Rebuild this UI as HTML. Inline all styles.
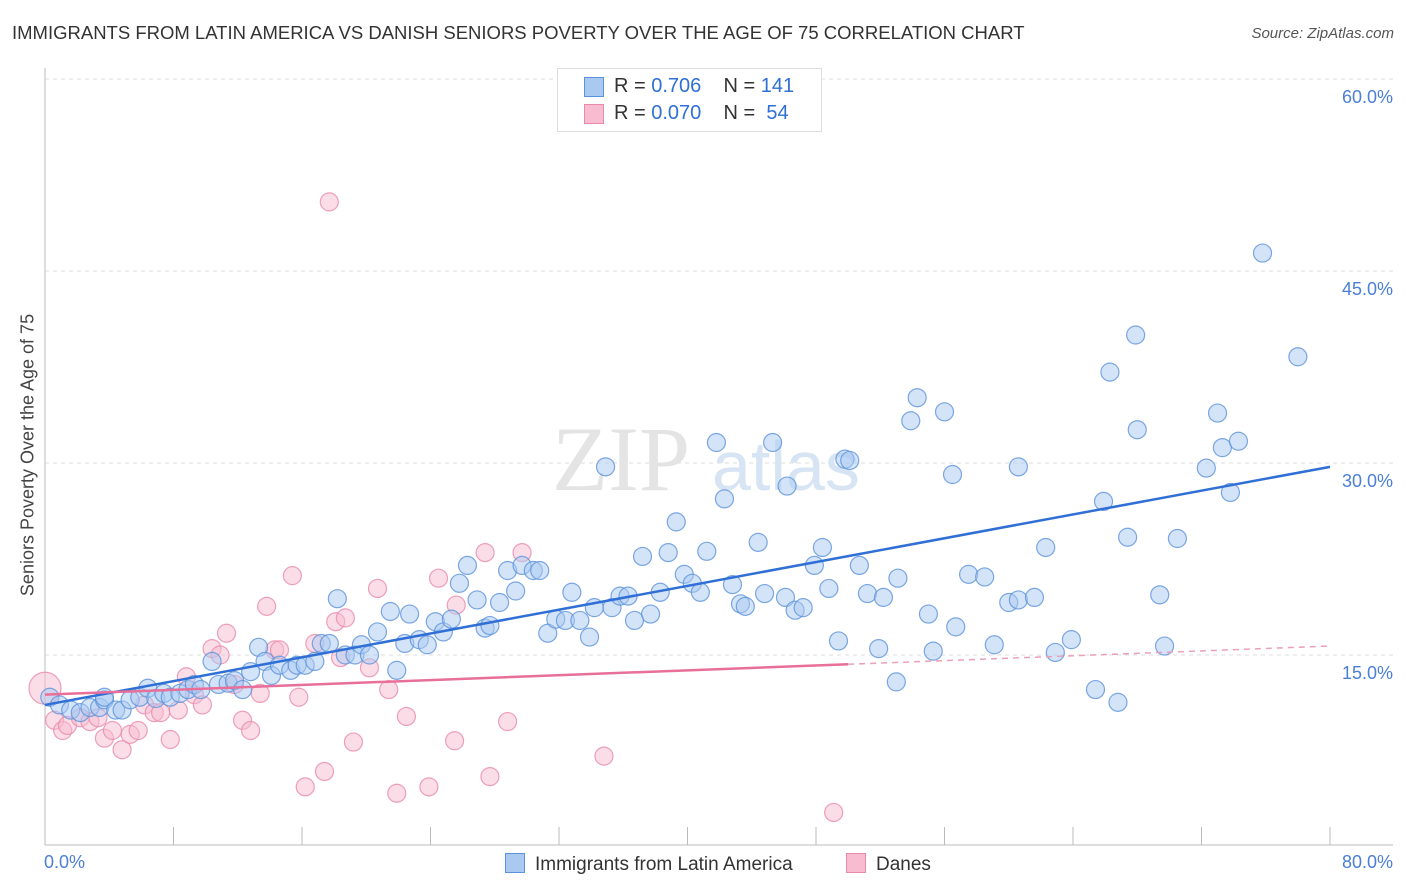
<!DOCTYPE html>
<html><head><meta charset="utf-8"><style>
body{margin:0;background:#fff;font-family:"Liberation Sans",sans-serif;}
#wrap{position:relative;width:1406px;height:892px;overflow:hidden;}
.t{position:absolute;white-space:nowrap;}
</style></head><body>
<div id="wrap">
<div class="t" style="left:12px;top:22px;font-size:18.5px;color:#333;">IMMIGRANTS FROM LATIN AMERICA VS DANISH SENIORS POVERTY OVER THE AGE OF 75 CORRELATION CHART</div>
<div class="t" style="right:12px;top:25px;font-size:15px;color:#555;font-style:italic;">Source: ZipAtlas.com</div>
<svg id="svg" width="1406" height="892" style="position:absolute;left:0;top:0"></svg>
</div>
<script>
const yTicks=[15,30,45,60];
const yTickLabels=["15.0%","30.0%","45.0%","60.0%"];
const xTickLabels=["0.0%","80.0%"];
const blueX=[0.3,0.9,1.6,2.2,2.8,3.4,3.7,4.4,4.8,3.7,5.3,5.9,6.4,6.9,7.4,7.8,8.4,8.9,9.3,9.7,10.4,10.8,11.4,11.8,12.3,12.8,13.3,13.7,14.1,14.6,15.3,15.7,16.2,16.8,17.2,17.7,18.2,18.7,19.3,19.7,20.2,20.7,21.5,21.9,22.4,22.7,23.3,23.8,24.3,24.8,25.3,25.8,26.3,26.9,27.4,27.7,28.3,28.8,29.3,29.7,30.4,30.8,31.3,31.8,32.4,32.8,33.3,33.9,34.2,34.9,35.3,35.8,36.3,36.7,37.2,37.7,38.3,38.8,39.3,39.8,40.3,40.8,41.2,41.8,42.3,42.8,43.3,43.6,44.4,44.8,45.3,46.1,46.2,46.7,47.2,47.9,48.4,48.8,49.4,49.8,50.1,50.7,51.2,51.9,52.2,53.0,53.1,53.9,54.3,55.0,55.3,56.0,56.5,56.7,57.5,58.5,59.1,60.0,60.6,60.6,61.6,62.3,62.9,63.9,65.4,65.9,66.3,66.8,67.4,67.9,68.0,69.4,69.7,70.5,72.3,73.0,73.3,73.8,74.3,75.8,78.0];
const blueY=[11.7,11.1,10.7,10.5,10.9,10.9,11.5,10.7,10.7,11.7,11.5,11.7,12.4,11.6,12.0,11.7,12.0,12.3,12.7,12.3,14.5,12.7,12.8,13.0,12.3,13.7,15.6,14.5,13.4,14.2,13.8,14.2,14.2,14.5,15.9,15.9,19.4,15.0,15.0,15.8,15.0,16.8,18.4,13.8,15.9,18.2,16.2,15.8,17.6,16.8,17.8,20.6,22.0,19.3,17.1,17.3,19.1,21.6,20.0,22.0,21.6,21.6,16.7,17.8,17.7,19.9,17.7,16.4,18.7,29.7,18.7,19.6,19.6,17.7,22.7,18.2,19.9,23.0,25.4,21.3,20.6,19.9,23.1,31.6,27.2,20.5,19.0,18.8,23.8,19.8,31.6,19.5,28.2,18.5,18.7,22.0,23.4,20.2,16.1,30.3,30.2,22.0,19.8,15.5,19.5,12.9,21.0,33.3,35.1,18.2,15.3,34.0,29.1,17.2,21.3,21.1,15.8,19.1,29.7,19.3,19.5,23.4,15.2,16.2,12.3,27.0,37.1,11.3,24.2,40.0,32.6,19.7,15.7,24.1,29.6,33.9,31.2,27.7,31.7,46.4,38.3];
const pinkX=[0,0.6,1.1,1.4,2.2,2.8,3.3,3.7,4.2,4.8,5.3,5.8,6.2,6.8,7.2,7.8,8.3,8.8,9.3,9.8,10.4,10.9,11.3,11.8,12.3,12.8,13.4,13.8,14.3,14.6,15.4,15.8,16.2,16.8,17.4,18.1,18.7,18.4,19.2,20.2,20.7,21.4,21.9,22.5,23.9,24.5,25.5,25.6,27.4,27.7,28.8,29.7,34.8,49.1,17.7];
const pinkY=[12.4,9.9,9.1,9.5,10.1,9.8,10.1,8.5,9.1,7.6,8.8,9.1,11.1,10.5,10.5,8.4,10.7,13.3,11.9,11.1,15.5,15.0,16.7,12.7,9.9,9.1,12.0,18.8,15.4,15.4,21.2,11.7,4.7,15.9,5.9,17.6,17.9,14.8,8.2,14.0,20.2,12.3,4.2,10.2,4.7,21.0,8.3,18.9,23.0,5.5,9.8,23.0,7.1,2.7,50.4];
const blueTrend=[11.1,29.7];
const pinkTrend=[11.9,15.7];
const pinkSolidEnd=50;

const X0=45,X1=1330,Y0=847,PX=12.8;
const sx=v=>X0+v/80*(X1-X0);
const sy=v=>Y0-v*PX;
const svg=document.getElementById('svg');
const NS='http://www.w3.org/2000/svg';
function mk(tag,attrs){const e=document.createElementNS(NS,tag);for(const k in attrs)e.setAttribute(k,attrs[k]);svg.appendChild(e);return e;}

yTicks.forEach((t,i)=>{
 const g=mk('line',{x1:45,x2:1393,y1:sy(t),y2:sy(t),stroke:'#ddd','stroke-dasharray':'4,4'});
 
 
 const tx=mk('text',{x:1393,y:sy(t)+24,'text-anchor':'end','font-size':18,fill:'#4a7fd6','font-family':'Liberation Sans'});
 tx.textContent=yTickLabels[i];
 
 
});
let a=mk('line',{x1:45,x2:45,y1:68,y2:845,stroke:'#bbb'});


a=mk('line',{x1:45,x2:1393,y1:845,y2:845,stroke:'#bbb'});


for(let i=1;i<=10;i++){const tk=mk('line',{x1:sx(i*8),x2:sx(i*8),y1:827,y2:845,stroke:'#bbb'});
 
 }
let w=mk('text',{x:552,y:490,'font-size':92,fill:'#e4e4e4','font-family':'Liberation Serif'});w.textContent='ZIP';


w=mk('text',{x:712,y:490,'font-size':70,fill:'#d6e4f4','font-family':'Liberation Sans'});w.textContent='atlas';


function pts(xs,ys,fill,stroke,name){xs.forEach((x,i)=>{
 const c=mk('circle',{cx:sx(x),cy:sy(ys[i]),r:(name==='dane-point'&&i===0)?16:9,fill:fill,'fill-opacity':0.5,stroke:stroke,'stroke-width':1.2,'stroke-opacity':0.8});
 
 
});}
pts(pinkX,pinkY,'#f7bccf','#e98aab','dane-point');
pts(blueX,blueY,'#a9c9f1','#5c92db','latin-america-point');
let l=mk('line',{x1:sx(0),y1:sy(blueTrend[0]),x2:sx(80),y2:sy(blueTrend[1]),stroke:'#2f6fd6','stroke-width':2.5});


const pm=pinkTrend[0]+(pinkTrend[1]-pinkTrend[0])*pinkSolidEnd/80;
l=mk('line',{x1:sx(0),y1:sy(pinkTrend[0]),x2:sx(pinkSolidEnd),y2:sy(pm),stroke:'#e86f99','stroke-width':2.5});


l=mk('line',{x1:sx(pinkSolidEnd),y1:sy(pm),x2:sx(80),y2:sy(pinkTrend[1]),stroke:'#eaa0b8','stroke-width':1.5,'stroke-dasharray':'6,5'});


</script>
<div class="t" style="left:28px;top:455px;font-size:18px;color:#444;transform:translate(-50%,-50%) rotate(-90deg);transform-origin:center;">Seniors Poverty Over the Age of 75</div>
<div class="t" style="left:44px;top:852px;font-size:18px;color:#4a7fd6;">0.0%</div>
<div class="t" style="right:13px;top:852px;font-size:18px;color:#4a7fd6;">80.0%</div>
<div style="position:absolute;left:557px;top:68px;width:263px;height:62px;border:1px solid #ddd;background:#fff;font-size:20px;">
 <div style="position:absolute;left:26px;top:8px;width:18px;height:18px;background:#a9c9f1;border:1px solid #5c92db"></div>
 <div class="t" style="left:56px;top:6px;color:#333">R = <span style="color:#2f6fd6">0.706</span>&nbsp;&nbsp;&nbsp; N = <span style="color:#2f6fd6">141</span></div>
 <div style="position:absolute;left:26px;top:35px;width:18px;height:18px;background:#f7bccf;border:1px solid #e98aab"></div>
 <div class="t" style="left:56px;top:33px;color:#333">R = <span style="color:#2f6fd6">0.070</span>&nbsp;&nbsp;&nbsp; N = &nbsp;<span style="color:#2f6fd6">54</span></div>
</div>
<div style="position:absolute;left:505px;top:853px;font-size:19px;color:#333;">
 <span style="display:inline-block;width:18px;height:18px;background:#a9c9f1;border:1px solid #5c92db;vertical-align:-3px;margin-right:10px"></span>Immigrants from Latin America</div>
<div style="position:absolute;left:846px;top:853px;font-size:19px;color:#333;">
 <span style="display:inline-block;width:18px;height:18px;background:#f7bccf;border:1px solid #e98aab;vertical-align:-3px;margin-right:10px"></span>Danes</div>
</body></html>
